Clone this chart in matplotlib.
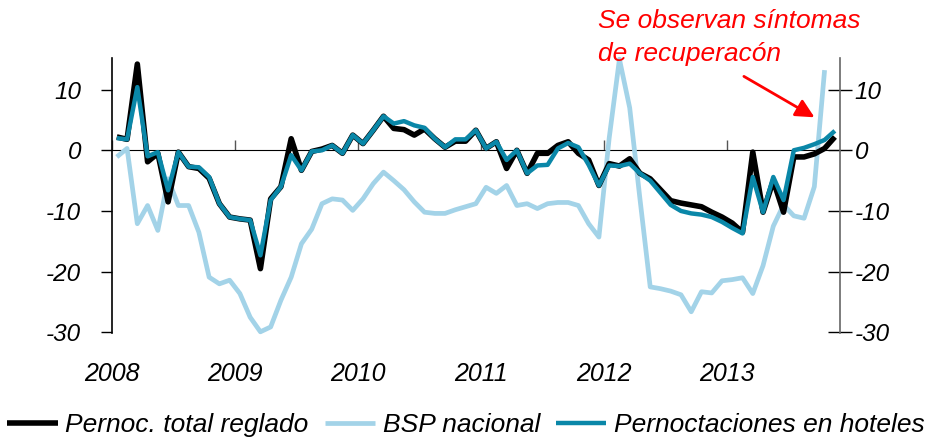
import matplotlib
matplotlib.use('Agg')
import matplotlib.pyplot as plt
import numpy as np

# Monthly series, Jan 2008 onwards (% change y/y):
total_reglado = [2.2, 1.8, 14.2, -1.9, -0.5, -8.5, -0.3, -2.7, -3.0, -4.6,
                 -8.8, -11.0, -11.3, -11.5, -19.5, -8.0, -6.0, 1.9, -3.3, -0.2,
                 0.2, 0.8, -0.5, 2.5, 1.1, 3.3, 5.6, 3.6, 3.4, 2.5,
                 3.5, 1.9, 0.5, 1.5, 1.5, 3.3, 0.3, 1.4, -3.0, 0.0,
                 -3.8, -0.5, -0.5, 0.8, 1.4, -0.5, -1.6, -5.8, -2.2, -2.6,
                 -1.4, -3.8, -4.7, -6.5, -8.3, -8.7, -9.0, -9.3, -10.2, -11.0,
                 -12.0, -13.5, -0.3, -10.2, -5.0, -10.2, -1.1, -1.1, -0.6, 0.3,
                 2.2]
bsp_nacional = [-1.1, 0.3, -12.1, -9.1, -13.2, -4.7, -9.1, -9.1, -13.5, -20.9,
                -22.0, -21.4, -23.6, -27.5, -29.9, -29.1, -24.7, -20.9, -15.4, -13.0,
                -8.8, -8.0, -8.2, -9.9, -8.0, -5.5, -3.6, -5.0, -6.5, -8.5,
                -10.2, -10.4, -10.4, -9.8, -9.3, -8.8, -6.1, -7.1, -5.8, -9.1,
                -8.8, -9.6, -8.8, -8.6, -8.6, -9.1, -12.1, -14.3, 2.0, 15.0,
                7.0, -8.0, -22.5, -22.8, -23.2, -23.8, -26.6, -23.3, -23.5, -21.5,
                -21.3, -21.0, -23.6, -19.0, -12.5, -9.0, -10.8, -11.2, -6.0, 13.2]
hoteles = [2.0, 1.8, 10.4, -1.0, -0.3, -6.6, -0.3, -2.7, -2.8, -4.4,
           -8.8, -11.0, -11.3, -11.5, -17.3, -8.2, -6.0, -0.8, -3.3, -0.2,
           0.0, 0.8, -0.5, 2.5, 1.1, 3.3, 5.6, 4.4, 4.8, 4.1,
           3.7, 1.9, 0.5, 1.8, 1.8, 3.3, 0.3, 1.4, -1.6, 0.0,
           -3.8, -2.5, -2.4, 0.3, 1.2, 0.5, -2.4, -5.8, -2.5, -2.6,
           -2.2, -3.8, -5.0, -7.0, -9.0, -10.0, -10.4, -10.6, -11.0, -11.8,
           -12.8, -13.7, -4.4, -10.2, -4.4, -8.2, 0.0, 0.4, 1.0, 1.7,
           3.2]
year_labels = ['2008', '2009', '2010', '2011', '2012', '2013']
y_ticks = [10, 0, -10, -20, -30]
series_names = ['Pernoc. total reglado', 'BSP nacional', 'Pernoctaciones en hoteles']

# Colours:
c_black = '#000000'
c_light = '#a3d3e8'
c_teal = '#0a87a8'

fam = ['Liberation Sans', 'DejaVu Sans']
tick_font = dict(family=fam, style='italic', size=17.5)
year_font = dict(family=fam, style='italic', size=18)

fig = plt.figure(figsize=(9.26, 4.38), dpi=100)
ax = fig.add_axes([0.1206, 0.2397, 0.7865, 0.6279])

# Points sit in the middle of each monthly slot:
x_tot = np.arange(len(total_reglado)) + 0.5
x_bsp = np.arange(len(bsp_nacional)) + 0.5
x_hot = np.arange(len(hoteles)) + 0.5

ax.plot(x_tot, total_reglado, color=c_black, lw=4.0, solid_joinstyle='round',
        solid_capstyle='butt', label=series_names[0], zorder=3)
ax.plot(x_bsp, bsp_nacional, color=c_light, lw=3.4, solid_joinstyle='round',
        solid_capstyle='butt', label=series_names[1], zorder=2, clip_on=False)
ax.plot(x_hot, hoteles, color=c_teal, lw=3.2, solid_joinstyle='round',
        solid_capstyle='butt', label=series_names[2], zorder=4)

y_lo, y_hi = -30.1, 15.2
ax.set_xlim(0, 71)
ax.set_ylim(y_lo, y_hi)

# Year labels at the bottom, no tick marks there:
ax.set_xticks(np.arange(len(year_labels)) * 12)
ax.set_xticklabels(year_labels, fontdict=year_font)
ax.tick_params(axis='x', length=0, pad=21)
ax.set_yticks(y_ticks)
ax.set_yticklabels([str(v) for v in y_ticks], fontdict=tick_font)
ax.tick_params(axis='y', direction='out', length=8, width=1, pad=14)
for side in ['top', 'right', 'bottom']:
    ax.spines[side].set_visible(False)
ax.spines['left'].set_linewidth(1.2)

# Zero line with the year tick marks:
zero_frac = (0 - y_lo) / (y_hi - y_lo)
sec = ax.secondary_xaxis(zero_frac)
sec.set_xticks(np.arange(len(year_labels)) * 12)
sec.set_xticklabels([])
sec.tick_params(direction='out', length=7, width=1, color='#555555')
sec.spines['bottom'].set_color('#333333')
sec.spines['bottom'].set_linewidth(1.0)

# Right axis:
ax2 = ax.twinx()
ax2.set_ylim(y_lo, y_hi)
ax2.set_yticks(y_ticks)
ax2.set_yticklabels([str(v) for v in y_ticks], fontdict=tick_font)
ax2.tick_params(axis='y', direction='inout', length=17, width=1, pad=2)
for side in ['top', 'left', 'bottom']:
    ax2.spines[side].set_visible(False)
ax2.spines['right'].set_color('#666666')
ax2.spines['right'].set_linewidth(1.2)

# Annotation:
fig.text(598 / 926, 1 - 9 / 438, 'Se observan síntomas\nde recuperacón', color='red',
         family=fam, style='italic', size=19, ha='left', va='top', linespacing=1.45)
ax.annotate('', xy=(68.75, 5.2), xytext=(61.4, 12.4), annotation_clip=False,
            arrowprops=dict(arrowstyle='-|>', color='red', lw=2, mutation_scale=28))

# Legend:
fig.legend(loc='center left', bbox_to_anchor=(0.008, 0.03), ncol=3, frameon=False,
           prop=dict(family=fam, style='italic', size=19),
           handlelength=1.9, handletextpad=0.3, columnspacing=0.6, borderpad=0, borderaxespad=0)

fig.savefig('out.png', dpi=100)
